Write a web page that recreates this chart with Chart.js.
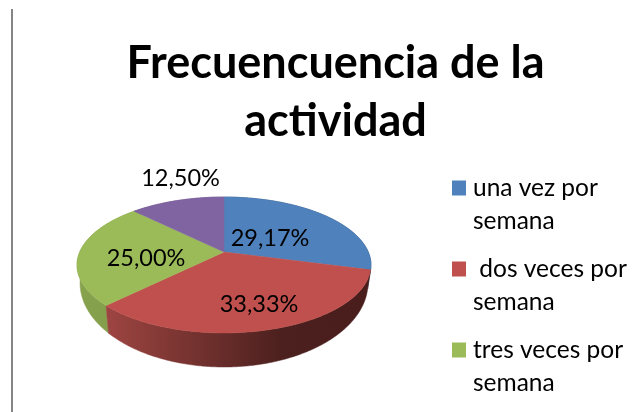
<!DOCTYPE html>
<html>
<head>
<meta charset="utf-8">
<script src="https://cdn.jsdelivr.net/npm/chart.js@4/dist/chart.umd.min.js"></script>
<style>
html,body{margin:0;padding:0;background:#fff;width:643px;height:412px;overflow:hidden}
#rule{position:absolute;left:11px;top:9px;width:2px;height:403px;background:#858585}
canvas{position:absolute;left:0;top:0}
</style>
</head>
<body>
<div id="rule"></div>
<canvas id="c" width="643" height="412"></canvas>
<script>
const categories = [['una vez por','semana'],[' dos veces por','semana'],['tres veces por','semana'],''];
const percentages = [29.17, 33.33, 25.00, 12.50];
const sliceColors = ['#4F81BD','#C0504D','#9BBB59','#8064A2'];
const chartTitle = ['Frecuencuencia de la','actividad'];

// Perspective view of the pie (style, not data)
const view = {cx:224, k:-0.191,
  top:{cy:252, R:144.3, A:65.5},
  base:{cy:267, R:141.3, A:80.9}};
const labelSpots = [[270,238],[259,304],[146,258],[180.5,178]];

function project(a, rim){
  const u=Math.cos(a), v=Math.sin(a), d=1+view.k*v;
  return [view.cx+rim.R*u/d, rim.cy+rim.A*v/d];
}
function wallFill(ctx,i){
  const g=ctx.createLinearGradient(view.cx-view.top.R,0,view.cx+view.top.R,0);
  if(i===0){g.addColorStop(0,'#2f4d71');g.addColorStop(1,'#2f4d71');}
  else if(i===1){
    g.addColorStop(0,'#a84845');g.addColorStop(0.12,'#9a4340');g.addColorStop(0.4,'#74322f');
    g.addColorStop(0.7,'#4c201e');g.addColorStop(1,'#491d1b');
  } else if(i===2){g.addColorStop(0,'#86a24d');g.addColorStop(1,'#6f8a41');}
  else {g.addColorStop(0,'#5f4a78');g.addColorStop(1,'#5f4a78');}
  return g;
}
function arcAngles(el){
  const p=el.getProps(['startAngle','endAngle'],true);
  const n=Math.max(2,Math.ceil((p.endAngle-p.startAngle)/0.01));
  const list=[];
  for(let j=0;j<=n;j++) list.push(p.startAngle+(p.endAngle-p.startAngle)*j/n);
  return list;
}
const pie3d = {
  id:'pie3d',
  afterLayout(chart){
    const t=chart.titleBlock, l=chart.legend;
    t.left=0; t.right=671; t.top=34; t.bottom=150;
    l.left=442.25; l.right=643; l.top=160.75; l.bottom=412;
  },
  beforeDatasetDraw(chart,args){
    const ctx=chart.ctx, arcs=chart.getDatasetMeta(args.index).data;
    ctx.save();
    [3,0,2,1].forEach(i=>{
      const ang=arcAngles(arcs[i]);
      ctx.beginPath();
      ang.forEach((a,j)=>{const q=project(a,view.top); j?ctx.lineTo(q[0],q[1]):ctx.moveTo(q[0],q[1]);});
      ang.slice().reverse().forEach(a=>{const q=project(a,view.base); ctx.lineTo(q[0],q[1]);});
      ctx.closePath();
      const f=wallFill(ctx,i);
      ctx.fillStyle=f; ctx.strokeStyle=f; ctx.lineWidth=0.5; ctx.fill(); ctx.stroke();
    });
    arcs.forEach((el,i)=>{
      ctx.beginPath();
      ctx.moveTo(view.cx,view.top.cy);
      arcAngles(el).forEach(a=>{const q=project(a,view.top); ctx.lineTo(q[0],q[1]);});
      ctx.closePath();
      ctx.fillStyle=sliceColors[i]; ctx.strokeStyle=sliceColors[i]; ctx.lineWidth=0.5;
      ctx.fill(); ctx.stroke();
    });
    ctx.restore();
    return false;
  },
  afterDatasetsDraw(chart){
    const ctx=chart.ctx;
    ctx.save();
    ctx.font='23.5px Lato'; ctx.fillStyle='#000';
    ctx.textAlign='center'; ctx.textBaseline='middle';
    percentages.forEach((v,i)=>{
      ctx.fillText(v.toFixed(2).replace('.',',')+'%',labelSpots[i][0],labelSpots[i][1]);
    });
    ctx.restore();
  }
};
const canvas=document.getElementById('c');
new Chart(canvas,{
  type:'pie',
  data:{labels:categories,datasets:[{data:percentages,backgroundColor:sliceColors,borderWidth:0}]},
  plugins:[pie3d],
  options:{
    responsive:false, animation:false,
    layout:{padding:0},
    plugins:{
      tooltip:{enabled:false},
      title:{display:true,text:chartTitle,color:'#000',padding:0,
        font:{family:'Lato',size:45,weight:'bold',lineHeight:58/45}},
      legend:{display:true,position:'right',align:'start',
        labels:{
          color:'#000',font:{family:'Lato',size:24.5,lineHeight:33/24.5},
          boxWidth:3.5,boxHeight:4.5,padding:15,
          generateLabels(chart){
            return chart.data.labels.map((text,i)=>({
              text,fillStyle:sliceColors[i],strokeStyle:sliceColors[i],lineWidth:10.5,index:i,hidden:false
            }));
          },
          filter:item=>item.text.length>0
        }
      }
    }
  }
});
</script>
</body>
</html>
